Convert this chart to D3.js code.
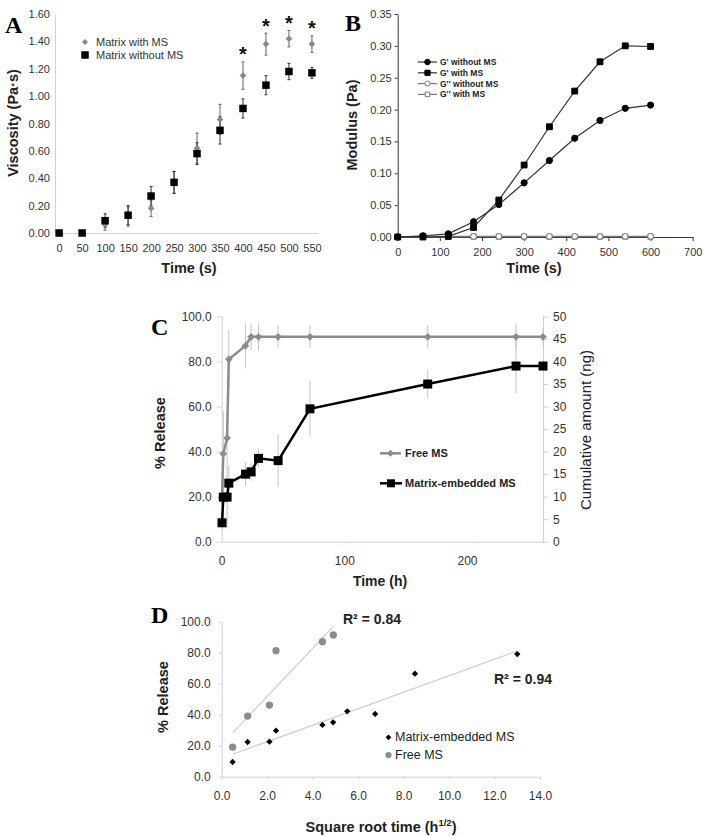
<!DOCTYPE html>
<html>
<head>
<meta charset="utf-8">
<script src="https://cdn.jsdelivr.net/npm/d3@7"></script>
<style>
  body { margin: 0; background: #fff; }
  svg { display: block; font-family: "Liberation Sans", Arial, sans-serif; }
</style>
</head>
<body>
<div id="fig"></div>
<script>
// ---- panel A: viscosity vs time
const timeA = [0, 50, 100, 150, 200, 250, 300, 350, 400, 450, 500, 550];
const viscWithMS = [0, 0, 0.06, 0.12, 0.18, 0.37, 0.62, 0.83, 1.15, 1.38, 1.42, 1.38];
const viscWithMSErr = [0, 0, 0.04, 0.07, 0.06, 0.08, 0.11, 0.11, 0.10, 0.08, 0.06, 0.06];
const viscWithoutMS = [0, 0, 0.09, 0.13, 0.27, 0.37, 0.58, 0.75, 0.91, 1.08, 1.18, 1.17];
const viscWithoutMSErr = [0, 0, 0.05, 0.07, 0.07, 0.08, 0.08, 0.10, 0.07, 0.07, 0.06, 0.04];
const starTimes = [400, 450, 500, 550];
const ticksA = [0, 0.2, 0.4, 0.6, 0.8, 1.0, 1.2, 1.4, 1.6];

// ---- panel B: modulus vs time
const timeB = [0, 60, 120, 180, 240, 300, 360, 420, 480, 540, 600];
const gpWithoutMS = [0, 0.002, 0.005, 0.024, 0.051, 0.085, 0.120, 0.155, 0.183, 0.202, 0.207];
const gpWithMS = [0, 0, 0.001, 0.015, 0.058, 0.113, 0.173, 0.229, 0.275, 0.300, 0.299];
const gppWithoutMS = [0, 0.001, 0.001, 0.001, 0.001, 0.001, 0.001, 0.001, 0.001, 0.001, 0.001];
const gppWithMS = [0, 0, 0, 0.0005, 0.0005, 0.0005, 0.0005, 0.0005, 0.0005, 0.0005, 0.0005];
const legendB = ["G' without MS", "G' with MS", "G'' without MS", "G'' with MS"];

// ---- panel C: release over time
const timeC = [0.25, 1.3, 4.4, 5.8, 19.4, 24, 30, 46, 72, 168, 240, 262];
const releaseFree = [19.5, 39, 46, 81, 87, 91, 91, 91, 91, 91, 91, 91];
const releaseFreeErr = [3, 19, 12, 13, 10, 6, 6, 5, 5, 5, 6, 4];
const releaseMatrix = [8.4, 19.8, 19.8, 26, 30, 31, 37, 36, 59, 70, 78, 78];
const releaseMatrixErr = [3, 10, 14, 8, 5, 4, 4, 11.5, 12.5, 6.5, 12, 0];

// ---- panel D: release vs square root time
const sqrtTimeMatrix = [0.48, 1.14, 2.1, 2.39, 4.43, 4.9, 5.52, 6.75, 8.5, 13.0];
const releaseMatrixD = [9.5, 22.4, 22.6, 29.7, 33.4, 35.1, 42.2, 40.5, 66.5, 79.1];
const sqrtTimeFree = [0.48, 1.14, 2.1, 2.39, 4.43, 4.91];
const releaseFreeD = [19.1, 39.1, 46.2, 81.3, 87.1, 91.4];
const r2Labels = ["R\u00b2 = 0.84", "R\u00b2 = 0.94"];

const zip = (xs, ys, es) => xs.map((x, i) => ({ x: x, y: ys[i], e: es ? es[i] : 0 }));

let svg = d3.select("#fig").append("svg")
  .attr("width", 706)
  .attr("height", 836);

const light = "#d0d0d0";
const textCol = "#222";

function letter(t, x, y) {
  svg.append("text")
    .attr("x", x).attr("y", y)
    .attr("font-family", "'Liberation Serif', 'DejaVu Serif', serif")
    .attr("font-weight", "bold")
    .attr("font-size", 24)
    .text(t);
}

function styleAxis(g, col, fs) {
  g.select(".domain").attr("stroke", col);
  g.selectAll(".tick line").attr("stroke", col);
  g.selectAll(".tick text").attr("fill", "#333").attr("font-size", fs)
    .attr("font-family", "'Liberation Sans', Arial, sans-serif");
}

function axisTitle(t, x, y, rot, fs, weight) {
  return svg.append("text")
    .attr("transform", `translate(${x},${y})` + (rot ? " rotate(-90)" : ""))
    .attr("text-anchor", "middle")
    .attr("dominant-baseline", "central")
    .attr("font-size", fs)
    .attr("font-weight", weight || "bold")
    .attr("fill", textCol)
    .text(t);
}

function sym(type, size) {
  return d3.symbol().type(type).size(size)();
}

// ================= A =================
letter("A", 5, 33);
let xA = d3.scaleLinear().domain([-9, 561]).range([55, 317]);
let yA = d3.scaleLinear().domain([0, 1.6]).range([233, 14]);

let axA = svg.append("g").attr("transform", "translate(0,233)")
  .call(d3.axisBottom(xA).tickValues(timeA).tickSize(0).tickPadding(11).tickFormat(d3.format("d")));
styleAxis(axA, light, 11);
let ayA = svg.append("g").attr("transform", "translate(55,0)")
  .call(d3.axisLeft(yA).tickValues(ticksA).tickSize(0).tickPadding(5).tickFormat(d3.format(".2f")));
styleAxis(ayA, light, 11);

axisTitle("Viscosity (Pa\u00b7s)", 13, 123, true, 14.5);
axisTitle("Time (s)", 189, 268, false, 14.5);

let withA = zip(timeA, viscWithMS, viscWithMSErr);
let withoutA = zip(timeA, viscWithoutMS, viscWithoutMSErr);

function errBars(g, data, xs, ys, col, cap) {
  let eb = g.selectAll(null).data(data.filter(d => d.e > 0)).enter().append("g")
    .attr("stroke", col).attr("stroke-width", 1);
  eb.append("line")
    .attr("x1", d => xs(d.x)).attr("x2", d => xs(d.x))
    .attr("y1", d => ys(d.y - d.e)).attr("y2", d => ys(d.y + d.e));
  if (cap) {
    eb.append("line")
      .attr("x1", d => xs(d.x) - cap).attr("x2", d => xs(d.x) + cap)
      .attr("y1", d => ys(d.y + d.e)).attr("y2", d => ys(d.y + d.e));
    eb.append("line")
      .attr("x1", d => xs(d.x) - cap).attr("x2", d => xs(d.x) + cap)
      .attr("y1", d => ys(d.y - d.e)).attr("y2", d => ys(d.y - d.e));
  }
}

let gA = svg.append("g");
errBars(gA, withA, xA, yA, "#666", 1.5);
errBars(gA, withoutA, xA, yA, "#333", 1.5);

gA.selectAll(".dia").data(withA).enter().append("path")
  .attr("d", sym(d3.symbolSquare, 22))
  .attr("transform", d => `translate(${xA(d.x)},${yA(d.y)}) rotate(45)`)
  .attr("fill", "#888");
gA.selectAll(".sq").data(withoutA).enter().append("path")
  .attr("d", sym(d3.symbolSquare, 56))
  .attr("transform", d => `translate(${xA(d.x)},${yA(d.y)})`)
  .attr("fill", "#000");

gA.selectAll(".star").data(withA.filter(d => starTimes.includes(d.x))).enter().append("text")
  .attr("x", d => xA(d.x))
  .attr("y", d => yA(d.y + d.e + 0.07) + 9)
  .attr("text-anchor", "middle")
  .attr("font-size", 20)
  .attr("font-weight", "bold")
  .attr("fill", "#111")
  .text("*");

// legend A
gA.append("path").attr("d", sym(d3.symbolSquare, 18))
  .attr("transform", "translate(85,42) rotate(45)").attr("fill", "#888");
gA.append("path").attr("d", sym(d3.symbolSquare, 56))
  .attr("transform", "translate(85,55)").attr("fill", "#000");
gA.append("text").attr("x", 96).attr("y", 42).attr("dominant-baseline", "central")
  .attr("font-size", 11).attr("fill", "#333").text("Matrix with MS");
gA.append("text").attr("x", 96).attr("y", 55).attr("dominant-baseline", "central")
  .attr("font-size", 11).attr("fill", "#333").text("Matrix without MS");

// ================= B =================
letter("B", 345, 31);
let xB = d3.scaleLinear().domain([0, 700]).range([397.7, 692.7]);
let yB = d3.scaleLinear().domain([0, 0.35]).range([237, 14]);

let axB = svg.append("g").attr("transform", "translate(0,237)")
  .call(d3.axisBottom(xB).ticks(7).tickSize(4).tickSizeOuter(0).tickPadding(7));
styleAxis(axB, "#333", 11);
let ayB = svg.append("g").attr("transform", "translate(397.7,0)")
  .call(d3.axisLeft(yB).ticks(7).tickSize(3).tickSizeOuter(0).tickPadding(3).tickFormat(d3.format(".2f")));
styleAxis(ayB, "#333", 11);

axisTitle("Modulus (Pa)", 352, 125, true, 14.5);
axisTitle("Time (s)", 534, 268, false, 14.5);

let seriesB = [
  { name: legendB[0], data: zip(timeB, gpWithoutMS), type: d3.symbolCircle, size: 30, fill: "#000", stroke: "#000" },
  { name: legendB[1], data: zip(timeB, gpWithMS), type: d3.symbolSquare, size: 34, fill: "#000", stroke: "#000" },
  { name: legendB[2], data: zip(timeB, gppWithoutMS), type: d3.symbolCircle, size: 26, fill: "#fff", stroke: "#777" },
  { name: legendB[3], data: zip(timeB, gppWithMS), type: d3.symbolSquare, size: 26, fill: "#fff", stroke: "#777" }
];
let lineB = d3.line().x(d => xB(d.x)).y(d => yB(d.y));
let gB = svg.append("g");
seriesB.slice().reverse().forEach(s => {
  gB.append("path").datum(s.data).attr("d", lineB)
    .attr("fill", "none").attr("stroke", s.fill === "#000" ? "#333" : "#777").attr("stroke-width", 1.2);
  gB.selectAll(null).data(s.data).enter().append("path")
    .attr("d", sym(s.type, s.size))
    .attr("transform", d => `translate(${xB(d.x)},${yB(d.y)})`)
    .attr("fill", s.fill).attr("stroke", s.stroke).attr("stroke-width", 1);
});

let legB = gB.selectAll(".leg").data(seriesB).enter().append("g")
  .attr("transform", (d, i) => `translate(418,${62 + i * 10.8})`);
legB.append("line").attr("x1", 0).attr("x2", 19)
  .attr("stroke", d => d.fill === "#000" ? "#333" : "#777").attr("stroke-width", 1.2);
legB.append("path").attr("d", d => sym(d.type, d.size * 0.8))
  .attr("transform", "translate(9.5,0)")
  .attr("fill", d => d.fill).attr("stroke", d => d.stroke);
legB.append("text").attr("x", 22).attr("dominant-baseline", "central")
  .attr("font-size", 8.5).attr("font-weight", "bold").attr("fill", "#222")
  .text(d => d.name);

// ================= C =================
letter("C", 151, 335);
let xC = d3.scaleLinear().domain([0, 262]).range([221.7, 543]);
let yC = d3.scaleLinear().domain([0, 100]).range([541.7, 316.5]);
let yC2 = d3.scaleLinear().domain([0, 50]).range([541.7, 316.5]);

let axC = svg.append("g").attr("transform", "translate(0,541.7)")
  .call(d3.axisBottom(xC).tickValues([0, 100, 200]).tickSize(0).tickSizeOuter(0).tickPadding(15));
styleAxis(axC, light, 12);
let ayC = svg.append("g").attr("transform", "translate(221.7,0)")
  .call(d3.axisLeft(yC).tickValues(d3.range(0, 101, 20)).tickSize(5).tickSizeOuter(0).tickPadding(5).tickFormat(d3.format(".1f")));
styleAxis(ayC, light, 12);
let ayC2 = svg.append("g").attr("transform", "translate(543,0)")
  .call(d3.axisRight(yC2).tickValues(d3.range(0, 51, 5)).tickSize(5).tickSizeOuter(0).tickPadding(5));
styleAxis(ayC2, light, 12);

axisTitle("% Release", 160, 433, true, 14.5);
axisTitle("Time (h)", 380, 581, false, 14);
axisTitle("Cumulative amount (ng)", 585, 430, true, 15, "normal");

let freeC = zip(timeC, releaseFree, releaseFreeErr);
let matrixC = zip(timeC, releaseMatrix, releaseMatrixErr);
let gC = svg.append("g");
errBars(gC, freeC, xC, yC, "#c4c4c4", 0);
errBars(gC, matrixC, xC, yC, "#c4c4c4", 0);

let lineC = d3.line().x(d => xC(d.x)).y(d => yC(d.y));
gC.append("path").datum(freeC).attr("d", lineC)
  .attr("fill", "none").attr("stroke", "#8c8c8c").attr("stroke-width", 2.5);
gC.selectAll(".fd").data(freeC).enter().append("path")
  .attr("d", sym(d3.symbolSquare, 30))
  .attr("transform", d => `translate(${xC(d.x)},${yC(d.y)}) rotate(45)`)
  .attr("fill", "#8c8c8c");
gC.append("path").datum(matrixC).attr("d", lineC)
  .attr("fill", "none").attr("stroke", "#000").attr("stroke-width", 2.5);
gC.selectAll(".ms").data(matrixC).enter().append("path")
  .attr("d", sym(d3.symbolSquare, 81))
  .attr("transform", d => `translate(${xC(d.x)},${yC(d.y)})`)
  .attr("fill", "#000");

// legend C
gC.append("line").attr("x1", 380).attr("x2", 401).attr("y1", 453.3).attr("y2", 453.3)
  .attr("stroke", "#8c8c8c").attr("stroke-width", 2.5);
gC.append("path").attr("d", sym(d3.symbolSquare, 24))
  .attr("transform", "translate(390.5,453.3) rotate(45)").attr("fill", "#8c8c8c");
gC.append("line").attr("x1", 380).attr("x2", 402).attr("y1", 483.3).attr("y2", 483.3)
  .attr("stroke", "#000").attr("stroke-width", 2.5);
gC.append("path").attr("d", sym(d3.symbolSquare, 64))
  .attr("transform", "translate(391,483.3)").attr("fill", "#000");
gC.append("text").attr("x", 405).attr("y", 453.3).attr("dominant-baseline", "central")
  .attr("font-size", 11).attr("font-weight", "bold").attr("fill", "#222").text("Free MS");
gC.append("text").attr("x", 405).attr("y", 483.3).attr("dominant-baseline", "central")
  .attr("font-size", 11).attr("font-weight", "bold").attr("fill", "#222").text("Matrix-embedded MS");

// ================= D =================
letter("D", 151, 623);
let xD = d3.scaleLinear().domain([0, 14]).range([221.7, 540]);
let yD = d3.scaleLinear().domain([0, 100]).range([776.7, 621.7]);

let axD = svg.append("g").attr("transform", "translate(0,776.7)")
  .call(d3.axisBottom(xD).tickValues(d3.range(0, 15, 2)).tickSize(3).tickSizeOuter(0).tickPadding(12).tickFormat(d3.format(".1f")));
styleAxis(axD, light, 12);
let ayD = svg.append("g").attr("transform", "translate(221.7,0)")
  .call(d3.axisLeft(yD).tickValues(d3.range(0, 101, 20)).tickSize(3).tickSizeOuter(0).tickPadding(8).tickFormat(d3.format(".1f")));
styleAxis(ayD, light, 12);

axisTitle("% Release", 162.5, 697, true, 14.5);
let tD = axisTitle("Square root time (h", 381, 827, false, 14.5);
tD.append("tspan").attr("font-size", 9.5).attr("dy", -5).text("1/2");
tD.append("tspan").attr("dy", 5).text(")");

let freeD = zip(sqrtTimeFree, releaseFreeD);
let matrixD = zip(sqrtTimeMatrix, releaseMatrixD);

function fitLine(data) {
  let mx = d3.mean(data, d => d.x), my = d3.mean(data, d => d.y);
  let sxy = d3.sum(data, d => (d.x - mx) * (d.y - my));
  let sxx = d3.sum(data, d => (d.x - mx) * (d.x - mx));
  let b = sxy / sxx, a = my - b * mx;
  let ext = d3.extent(data, d => d.x);
  return ext.map(x => ({ x: x, y: a + b * x }));
}
let gD = svg.append("g");
let lineD = d3.line().x(d => xD(d.x)).y(d => yD(d.y));
[freeD, matrixD].forEach(s => {
  gD.append("path").datum(fitLine(s)).attr("d", lineD)
    .attr("fill", "none").attr("stroke", "#cfcfcf").attr("stroke-width", 1.2);
});
gD.selectAll(".fc").data(freeD).enter().append("path")
  .attr("d", sym(d3.symbolCircle, 42))
  .attr("transform", d => `translate(${xD(d.x)},${yD(d.y)})`)
  .attr("fill", "#8c8c8c");
gD.selectAll(".md").data(matrixD).enter().append("path")
  .attr("d", sym(d3.symbolSquare, 20))
  .attr("transform", d => `translate(${xD(d.x)},${yD(d.y)}) rotate(45)`)
  .attr("fill", "#000");

gD.append("text").attr("x", 343).attr("y", 624).attr("font-size", 14)
  .attr("font-weight", "bold").attr("fill", textCol).text(r2Labels[0]);
gD.append("text").attr("x", 494).attr("y", 684).attr("font-size", 14)
  .attr("font-weight", "bold").attr("fill", textCol).text(r2Labels[1]);

// legend D
gD.append("path").attr("d", sym(d3.symbolSquare, 16))
  .attr("transform", "translate(388.5,737.3) rotate(45)").attr("fill", "#000");
gD.append("path").attr("d", sym(d3.symbolCircle, 30))
  .attr("transform", "translate(388.5,755)").attr("fill", "#8c8c8c");
gD.append("text").attr("x", 395).attr("y", 737.3).attr("dominant-baseline", "central")
  .attr("font-size", 12.5).attr("fill", "#222").text("Matrix-embedded MS");
gD.append("text").attr("x", 395).attr("y", 755).attr("dominant-baseline", "central")
  .attr("font-size", 12.5).attr("fill", "#222").text("Free MS");
</script>
</body>
</html>
